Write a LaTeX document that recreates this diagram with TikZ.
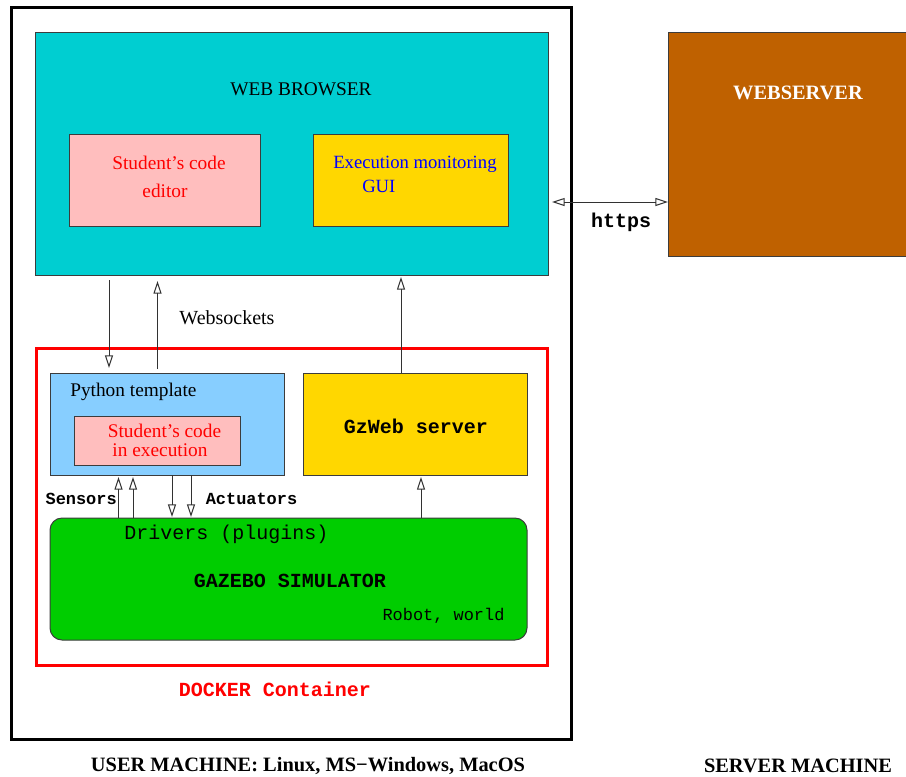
\documentclass[tikz,border=0pt]{standalone}
\usepackage{fontspec}
\setmainfont{Liberation Serif}
\setmonofont{Liberation Mono}
\usetikzlibrary{arrows.meta,fit}
\definecolor{cyanbg}{RGB}{0,206,209}
\definecolor{pinkbg}{RGB}{255,190,190}
\definecolor{goldbg}{RGB}{255,215,0}
\definecolor{ltblue}{RGB}{135,206,255}
\definecolor{greenbg}{RGB}{0,205,0}
\definecolor{brownbg}{RGB}{191,97,0}
\definecolor{boxgray}{RGB}{60,60,60}
\definecolor{arrgray}{RGB}{50,50,50}
\begin{document}
\begin{tikzpicture}[x=0.75pt,y=-0.75pt,
  box/.style={draw=boxgray, line width=0.75pt, inner sep=0pt, outer sep=0pt, rectangle},
  outerbox/.style={draw=black, line width=2.25pt, inner sep=0pt, outer sep=0pt, rectangle},
  dockerbox/.style={draw=red, line width=2.25pt, inner sep=0pt, outer sep=0pt, rectangle},
  txt/.style={font=\fontsize{14.5}{17}\selectfont, inner sep=0pt},
  serifb/.style={font=\fontsize{15.3}{18}\selectfont\bfseries, inner sep=0pt},
  mono/.style={font=\fontsize{15}{18}\selectfont\ttfamily, inner sep=0pt},
  monob/.style={font=\fontsize{15}{18}\selectfont\ttfamily\bfseries, inner sep=0pt},
  monos/.style={font=\fontsize{12.7}{15}\selectfont\ttfamily, inner sep=0pt},
  monosb/.style={font=\fontsize{12.7}{15}\selectfont\ttfamily\bfseries, inner sep=0pt},
  tip/.style={Triangle[open, length=9.5pt, width=6pt]},
  arr/.style={draw=arrgray, line width=0.75pt, -{Triangle[open, length=9.5pt, width=6pt]}},
  arrboth/.style={draw=arrgray, line width=0.75pt, {Triangle[open, length=9.5pt, width=6pt]}-{Triangle[open, length=9.5pt, width=6pt]}}
]
\useasboundingbox (0,0) rectangle (906,776);

% user machine
\node[outerbox, fit={(11.5,7.5) (571,739)}] (user) {};

% web browser
\node[box, fill=cyanbg, fit={(35,32) (548,275)}] (browser) {};
\node[txt] (wbt) at (301,89) {WEB BROWSER};
\node[box, fill=pinkbg, fit={(69,134) (260,226)}] (editor) {};
\node[txt, text=red] (ed1) at (169,163) {Student’s code};
\node[txt, text=red] (ed2) at (165,191) {editor};
\node[box, fill=goldbg, fit={(313,134) (508,226)}] (gui) {};
\node[txt, text=blue, anchor=west, font=\fontsize{14}{17}\selectfont] (gui1) at (333,164) {Execution monitoring};
\node[txt, text=blue, anchor=west, font=\fontsize{14}{17}\selectfont] (gui2) at (362,186) {GUI};

% docker
\node[dockerbox, fit={(36,348) (547,665)}] (docker) {};
\node[box, fill=ltblue, fit={(50,373) (284,475)}] (python) {};
\node[txt, anchor=west] (pyt) at (70,392) {Python template};
\node[box, fill=pinkbg, fit={(74,416) (240,465)}] (exec) {};
\node[txt, text=red] (ex1) at (164.5,431) {Student’s code};
\node[txt, text=red] (ex2) at (160,450) {in execution};
\node[box, fill=goldbg, fit={(303,373) (527,475)}] (gzweb) {};
\node[monob] (gzt) at (416,426) {GzWeb server};
\node[box, fill=greenbg, rounded corners=9pt, fit={(50,518) (527,640)}] (gazebo) {};
\node[mono] (drv) at (226.5,534) {Drivers (plugins)};
\node[monob] (gzs) at (290,581) {GAZEBO SIMULATOR};
\node[monos] (rw) at (443.5,616) {Robot, world};
\node[monosb, anchor=east] (sens) at (117,499) {Sensors};
\node[monosb] (act) at (251.5,499) {Actuators};
\node[txt, font=\fontsize{15}{18}\selectfont] (wsk) at (227,318) {Websockets};
\node[monob, text=red] (dock) at (275,689) {DOCKER Container};

% webserver
\node[box, fill=brownbg, fit={(668,32) (912,256)}] (webserver) {};
\node[serifb, text=white] (wst) at (798,93) {WEBSERVER};
\node[monob] (https) at (621,222) {https};

% bottom labels
\node[serifb] (um) at (308,766) {USER MACHINE: Linux, MS−Windows, MacOS};
\node[serifb] (sm) at (798,766) {SERVER MACHINE};

% arrow columns
\coordinate (xa) at (109,0);
\coordinate (xb) at (157.5,0);
\coordinate (xc) at (401,0);
\coordinate (xd) at (421,0);
\coordinate (xs1) at (118.5,0);
\coordinate (xs2) at (133,0);
\coordinate (xa1) at (172,0);
\coordinate (xa2) at (191,0);
\coordinate (yh) at (0,202);

\draw[arr, shorten <=3.75pt, shorten >=3.75pt] (xa |- browser.south) -- (xa |- python.north);
\draw[arr, shorten <=3pt, shorten >=4.5pt] (xb |- python.north) -- (xb |- browser.south);
\draw[arr, shorten >=1.5pt] (xc |- gzweb.north) -- (xc |- browser.south);
\draw[arr, shorten >=1.5pt] (xd |- gazebo.north) -- (xd |- gzweb.south);
\draw[arr, shorten >=1.5pt] (xs1 |- gazebo.north) -- (xs1 |- python.south);
\draw[arr, shorten >=1.5pt] (xs2 |- gazebo.north) -- (xs2 |- python.south);
\draw[arr, shorten >=0.75pt] (xa1 |- python.south) -- (xa1 |- gazebo.north);
\draw[arr, shorten >=0.75pt] (xa2 |- python.south) -- (xa2 |- gazebo.north);
\draw[arrboth, shorten <=3pt] (browser.east |- yh) -- (webserver.west |- yh);
\end{tikzpicture}
\end{document}
